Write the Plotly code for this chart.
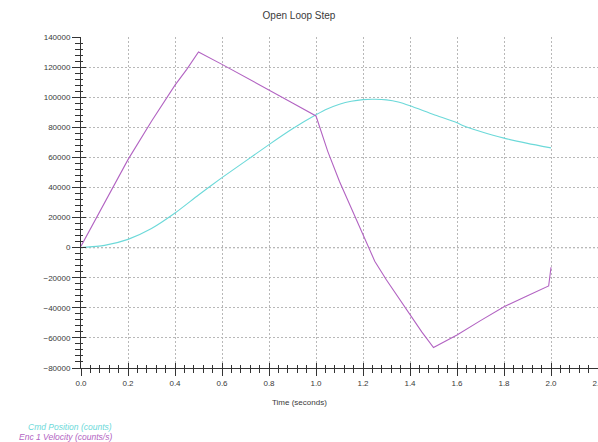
import plotly.graph_objects as go

# Open loop step response: commanded position and encoder velocity
pos_time = [0.0, 0.1, 0.2, 0.3, 0.4, 0.5, 0.6, 0.7, 0.8, 0.9, 1.0, 1.05, 1.1,
            1.15, 1.2, 1.25, 1.3, 1.35, 1.4, 1.5, 1.6, 1.63, 1.7, 1.8, 1.9, 2.0]
cmd_position = [0, 1500, 5500, 12700, 23000, 35000, 46500, 57500, 68500, 79000,
                88300, 92300, 95300, 97300, 98400, 98600, 98200, 96800, 94300, 88500,
                83000, 80800, 77200, 72800, 69300, 66300]

vel_time = [0.0, 0.1, 0.2, 0.3, 0.4, 0.45, 0.5, 0.6, 0.7, 0.8, 0.9, 1.0, 1.05,
            1.1, 1.15, 1.2, 1.25, 1.3, 1.35, 1.4, 1.45, 1.5, 1.6, 1.7, 1.8, 1.9, 1.99, 2.0]
enc_velocity = [1000, 30000, 58500, 84000, 108000, 118500, 130000, 121800, 113400,
                104800, 96200, 87500, 64000, 44000, 26500, 9000, -9000, -21500,
                -33000, -45000, -56000, -66400, -58000, -48500, -39300, -32000, -25500,
                -13000]

series_names = ["Cmd Position (counts)", "Enc 1 Velocity (counts/s)"]
series_colors = ["#6cd9d9", "#b263c2"]

title_text = "Open Loop Step"
x_title = "Time (seconds)"

FONT = "Liberation Sans, Arial, sans-serif"
TEXT = "#3a3a3a"
AXIS = "#333333"
GRID = "#b8b8b8"

fig = go.Figure()
fig.add_trace(go.Scatter(x=pos_time, y=cmd_position, mode="lines", name=series_names[0],
                         line=dict(color=series_colors[0], width=1.1, shape="spline",
                                   smoothing=0.6),
                         showlegend=False))
fig.add_trace(go.Scatter(x=vel_time, y=enc_velocity, mode="lines", name=series_names[1],
                         line=dict(color=series_colors[1], width=1.1), showlegend=False))
# empty trace so the inner-tick overlay axes are created
fig.add_trace(go.Scatter(x=[], y=[], xaxis="x2", yaxis="y2", showlegend=False,
                         hoverinfo="skip"))

# zero line drawn darker and dotted
fig.add_hline(y=0, line=dict(color="#555555", width=1, dash="2px,2px"), layer="below")

fig.update_layout(
    width=598, height=442,
    margin=dict(l=81, r=0, t=37, b=74),
    paper_bgcolor="white", plot_bgcolor="white",
    font=dict(family=FONT, size=8, color=TEXT),
    title=dict(text=title_text, x=0.5, xref="container", xanchor="center",
               y=1 - 15 / 442, yref="container", yanchor="middle",
               font=dict(family=FONT, size=10, color=TEXT)),
    xaxis=dict(range=[0, 2.2], tick0=0, dtick=0.2, tickformat=".1f",
               showline=True, linecolor=AXIS, linewidth=1,
               ticks="outside", ticklen=7, tickcolor=AXIS, tickwidth=1,
               minor=dict(dtick=0.04, ticks="outside", ticklen=4, tickcolor=AXIS,
                          showgrid=False),
               showgrid=True, gridcolor=GRID, griddash="2px,2px", gridwidth=1,
               zeroline=False, automargin=False, ticklabeloverflow="allow",
               tickfont=dict(size=8, color=TEXT)),
    yaxis=dict(range=[-80000, 140000], tick0=0, dtick=20000, tickformat="d",
               showline=True, linecolor=AXIS, linewidth=1,
               ticks="outside", ticklen=8, tickcolor=AXIS, tickwidth=1,
               minor=dict(dtick=4000, ticks="outside", ticklen=5, tickcolor=AXIS,
                          showgrid=False),
               showgrid=True, gridcolor=GRID, griddash="2px,2px", gridwidth=1,
               zeroline=False, automargin=False,
               tickfont=dict(size=8, color=TEXT)),
    xaxis2=dict(overlaying="x", matches="x", anchor="y", side="bottom",
                tick0=0, dtick=0.2, ticks="inside", ticklen=5, tickcolor=AXIS,
                minor=dict(dtick=0.04, ticks="inside", ticklen=3, tickcolor=AXIS,
                           showgrid=False),
                showticklabels=False, showgrid=False, showline=False, zeroline=False),
    yaxis2=dict(overlaying="y", matches="y", anchor="x", side="left",
                tick0=0, dtick=20000, ticks="inside", ticklen=5, tickcolor=AXIS,
                minor=dict(dtick=4000, ticks="inside", ticklen=2, tickcolor=AXIS,
                           showgrid=False),
                showticklabels=False, showgrid=False, showline=False, zeroline=False),
)

# axis title centred on the page
fig.add_annotation(text=x_title, xref="paper", yref="paper",
                   x=(299 - 81) / 517, y=(368 - 403) / 331,
                   xanchor="center", yanchor="middle", showarrow=False,
                   font=dict(family=FONT, size=8, color=TEXT))

# series key in the lower-left corner
for i, (name, color) in enumerate(zip(series_names, series_colors)):
    fig.add_annotation(text=f"<i>{name}</i>", xref="paper", yref="paper",
                       x=(114 - 81) / 517, y=(368 - (427 + 10 * i)) / 331,
                       xanchor="right", yanchor="middle", showarrow=False,
                       font=dict(family=FONT, size=8.5, color=color))

fig.write_html("out.html")
